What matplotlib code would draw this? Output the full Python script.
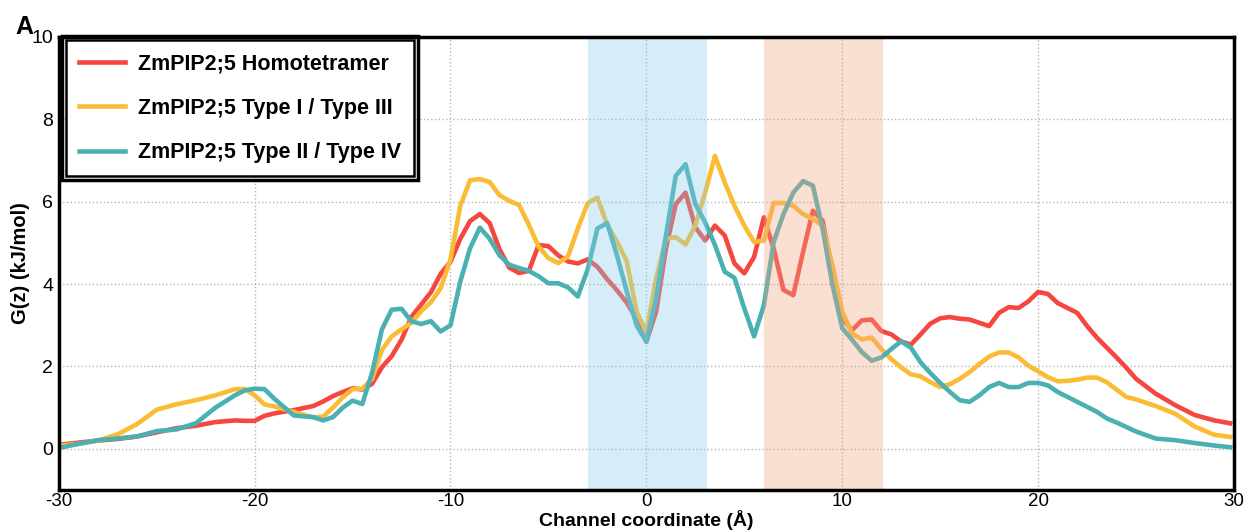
import matplotlib
matplotlib.use("Agg")
import matplotlib.pyplot as plt
from matplotlib.patches import Rectangle

plt.rcParams['font.family'] = ['Liberation Sans', 'DejaVu Sans']
plt.rcParams['axes.unicode_minus'] = False

# Channel coordinate (Å)
x = [-30, -29, -28, -27, -26, -25, -24, -23, -22, -21, -20.5, -20, -19.5, -19, -18, -17, -16.5, -16, -15.5, -15, -14.5, -14,
     -13.5, -13, -12.5, -12, -11.5, -11, -10.5, -10, -9.5, -9, -8.5, -8, -7.5, -7, -6.5, -6,
     -5.5, -5, -4.5, -4, -3.5, -3, -2.5, -2, -1.5, -1, -0.5, 0,
     0.5, 1, 1.5, 2, 2.5, 3, 3.5, 4, 4.5, 5, 5.5, 6, 6.5, 7, 7.5, 8, 8.5, 9, 9.5, 10,
     10.5, 11, 11.5, 12, 12.5, 13, 13.5, 14, 14.5, 15, 15.5, 16, 16.5, 17, 17.5, 18, 18.5, 19, 19.5, 20,
     20.5, 21, 21.5, 22, 22.5, 23, 23.5, 24, 24.5, 25, 26, 27, 28, 29, 29.8]

homotetramer = [0.10, 0.15, 0.20, 0.24, 0.30, 0.40, 0.50, 0.56, 0.65, 0.69, 0.68, 0.68, 0.80, 0.86, 0.94, 1.04, 1.15, 1.28, 1.38, 1.47, 1.44, 1.58,
                1.98, 2.25, 2.65, 3.20, 3.50, 3.80, 4.25, 4.54, 5.10, 5.53, 5.70, 5.48, 4.85, 4.40, 4.27, 4.32,
                4.95, 4.92, 4.70, 4.55, 4.50, 4.60, 4.42, 4.12, 3.85, 3.55, 3.15, 2.60,
                3.33, 4.86, 5.94, 6.22, 5.38, 5.06, 5.42, 5.18, 4.50, 4.26, 4.66, 5.62, 4.86, 3.86, 3.73, 4.78, 5.78, 5.54, 4.30, 3.17,
                2.88, 3.12, 3.14, 2.86, 2.78, 2.61, 2.53, 2.78, 3.04, 3.17, 3.20, 3.16, 3.14, 3.06, 2.98, 3.30, 3.44, 3.42, 3.58, 3.81,
                3.76, 3.54, 3.42, 3.30, 2.98, 2.70, 2.46, 2.22, 1.97, 1.70, 1.34, 1.06, 0.82, 0.69, 0.62]

type1_3 = [0.08, 0.12, 0.20, 0.35, 0.60, 0.95, 1.08, 1.18, 1.30, 1.45, 1.45, 1.30, 1.08, 1.03, 0.90, 0.76, 0.78, 1.00, 1.25, 1.45, 1.46, 1.70,
           2.40, 2.73, 2.90, 3.06, 3.34, 3.56, 3.90, 4.60, 5.90, 6.52, 6.55, 6.48, 6.16, 6.02, 5.92, 5.44,
           4.91, 4.63, 4.51, 4.67, 5.35, 5.96, 6.10, 5.44, 5.03, 4.55, 3.34, 2.82,
           4.14, 5.10, 5.14, 4.96, 5.42, 6.22, 7.11, 6.47, 5.90, 5.42, 5.02, 5.06, 5.97, 5.97, 5.90, 5.70, 5.58, 5.42, 4.46, 3.33,
           2.80, 2.66, 2.70, 2.42, 2.18, 1.98, 1.81, 1.76, 1.62, 1.50, 1.57, 1.70, 1.86, 2.06, 2.24, 2.34, 2.34, 2.22, 2.02, 1.88,
           1.74, 1.64, 1.65, 1.68, 1.73, 1.73, 1.62, 1.44, 1.26, 1.20, 1.04, 0.85, 0.54, 0.34, 0.29]

type2_4 = [0.02, 0.12, 0.21, 0.25, 0.30, 0.43, 0.47, 0.62, 1.00, 1.30, 1.42, 1.46, 1.45, 1.22, 0.81, 0.77, 0.69, 0.77, 1.00, 1.17, 1.09, 1.85,
           2.90, 3.38, 3.40, 3.10, 3.03, 3.10, 2.85, 3.00, 4.06, 4.87, 5.37, 5.10, 4.70, 4.47, 4.39, 4.32,
           4.19, 4.02, 4.02, 3.92, 3.70, 4.35, 5.35, 5.48, 4.70, 3.82, 3.00, 2.60,
           3.65, 5.18, 6.63, 6.91, 5.94, 5.50, 4.95, 4.30, 4.15, 3.41, 2.73, 3.49, 5.02, 5.70, 6.22, 6.50, 6.39, 5.34, 3.98, 2.93,
           2.65, 2.35, 2.14, 2.22, 2.42, 2.61, 2.46, 2.10, 1.84, 1.60, 1.38, 1.18, 1.14, 1.30, 1.50, 1.60, 1.50, 1.50, 1.60, 1.60,
           1.54, 1.38, 1.26, 1.14, 1.02, 0.90, 0.74, 0.64, 0.53, 0.42, 0.25, 0.21, 0.14, 0.08, 0.04]

labels = ["ZmPIP2;5 Homotetramer", "ZmPIP2;5 Type I / Type III", "ZmPIP2;5 Type II / Type IV"]
colors = ["#f5473f", "#fbbc35", "#4bb0b2"]
blue_span = (-3.0, 3.1)
orange_span = (6.0, 12.1)

fig = plt.figure(figsize=(12.49, 5.32), dpi=100)
ax = fig.add_axes([0.047, 0.0789, 0.941, 0.8516])

for series, lab, col in zip([homotetramer, type1_3, type2_4], labels, colors):
    ax.plot(x, series, color=col, lw=3.3, label=lab, zorder=3, solid_joinstyle='round')

ax.axvspan(*blue_span, color=(135/255, 206/255, 235/255), alpha=0.35, lw=0, zorder=4)
ax.axvspan(*orange_span, color=(241/255, 164/255, 129/255), alpha=0.35, lw=0, zorder=4)

ax.set_xlim(-30, 30)
ax.set_ylim(-1, 10)
ax.set_xticks([-30, -20, -10, 0, 10, 20, 30])
ax.set_yticks([0, 2, 4, 6, 8, 10])
ax.grid(True, linestyle=':', color='#b5b5b5', lw=1.0, zorder=1)
ax.set_axisbelow(True)
ax.tick_params(length=0, labelsize=14, pad=4)
ax.tick_params(axis='x', labelsize=13.5, pad=2)
for s in ax.spines.values():
    s.set_linewidth(2.5)
    s.set_zorder(6)

ax.set_xlabel("Channel coordinate (Å)", fontsize=14, fontweight='bold', labelpad=0)
ax.set_ylabel("G(z) (kJ/mol)", fontsize=14.5, fontweight='bold', labelpad=1)

leg = ax.legend(loc='upper left', bbox_to_anchor=(0.006, 0.993), borderaxespad=0,
                prop={'size': 15.5, 'weight': 'bold'}, handlelength=2.15, handletextpad=0.6,
                labelspacing=1.1, borderpad=0.6, fancybox=False, framealpha=1)
leg.get_frame().set_edgecolor('black')
leg.get_frame().set_linewidth(1.8)
leg.set_zorder(7)
for h in leg.get_lines():
    h.set_linewidth(3.3)

fig.text(15 / 1249, 1 - 34 / 532, "A", fontsize=18, fontweight='bold')

fig.canvas.draw()
bb = leg.get_frame().get_window_extent(fig.canvas.get_renderer())
pad = 4
inv = fig.transFigure.inverted()
(x0, y0), (x1, y1) = inv.transform([(bb.x0 - pad, bb.y0 - pad), (bb.x1 + pad, bb.y1 + pad)])
fig.patches.append(Rectangle((x0, y0), x1 - x0, y1 - y0, fill=False, lw=2.5, edgecolor='black',
                             transform=fig.transFigure, figure=fig, zorder=10))

fig.savefig("out.png", dpi=100)
